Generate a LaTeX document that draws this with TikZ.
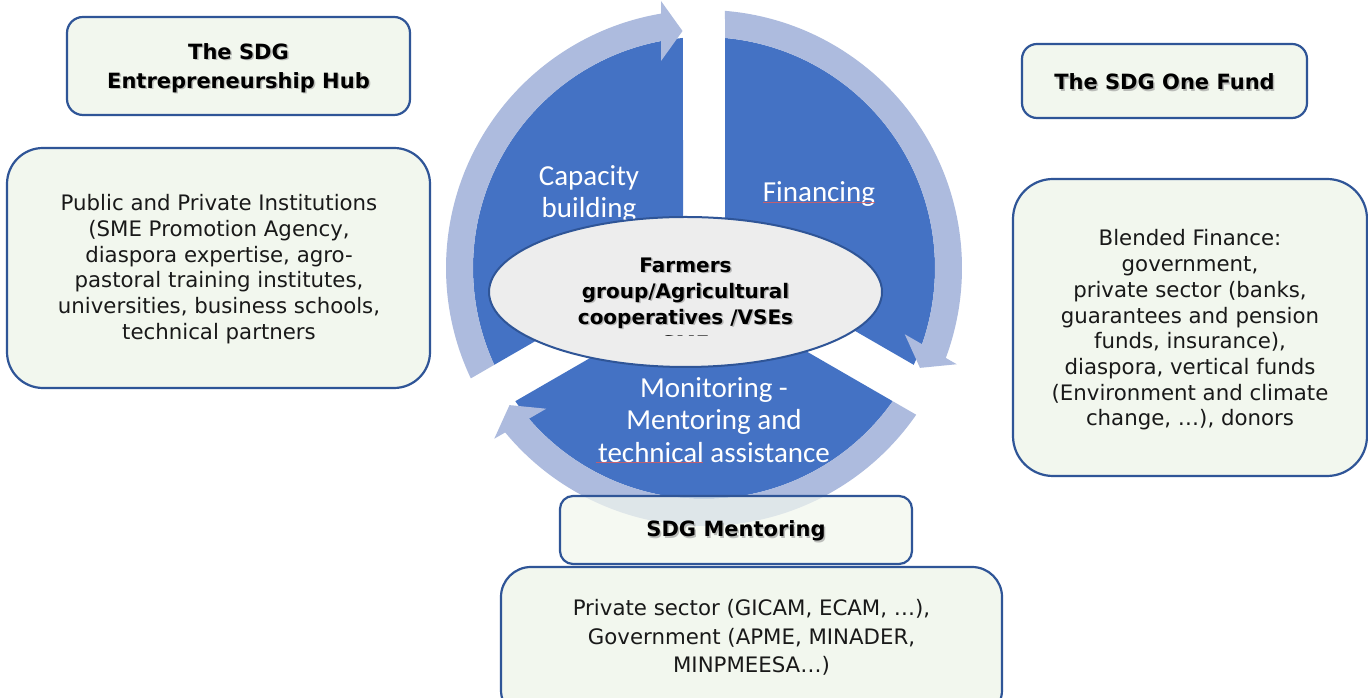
\documentclass[tikz,border=0pt]{standalone}
\usepackage{fontspec}
\setmainfont{DejaVu Sans}
\newfontfamily\calib{Carlito}
\usetikzlibrary{shapes.geometric}
\definecolor{segblue}{HTML}{4472C4}
\definecolor{ringblue}{HTML}{ADBBDE}
\definecolor{boxline}{HTML}{2F5597}
\definecolor{boxfill}{HTML}{F2F7EE}
\definecolor{ellfill}{HTML}{EDEDED}
\definecolor{spellred}{HTML}{E05A5A}
\newcommand\cyclearrow[2]{%
  \fill[ringblue] ({#1-4.667}:258) arc[start angle={#1-4.667}, end angle={#2+9.594}, radius=258]
    -- ({#2+9.149}:270.44) -- ({#2+5.183}:237.97) -- ({#2+11.735}:211.42)
    -- ({#2+10.728}:231) arc[start angle={#2+10.728}, end angle={#1-5.217}, radius=231] -- cycle;}
\begin{document}
\begin{tikzpicture}[x=1pt,y=1pt,
  box/.style={draw=boxline, line width=2.2pt, fill=boxfill, rounded corners=#1, inner sep=0pt},
  box/.default=15,
  btxt/.style={font=\fontsize{21}{29}\selectfont\bfseries, align=center, text=black, inner sep=0pt},
  etxt/.style={font=\fontsize{20}{26}\selectfont\bfseries, align=center, text=black, inner sep=0pt},
  rtxt/.style={font=\fontsize{21.3}{25.7}\selectfont, align=center, text=black!90, inner sep=0pt},
  ctxt/.style={font=\calib\fontsize{29}{32.5}\selectfont, align=center, text=white, inner sep=0pt},
  shadowtxt/.style={text=black!45, opacity=0.55},
  spell/.style={draw=spellred, line width=0.9pt, opacity=0.8}]
\path[use as bounding box, fill=white] (0,0) rectangle (1368,698);

% cycle segments and arrows
\begin{scope}[shift={(704,430)}]
  \fill[segblue] (150:24.25) -- (95.22:231) arc[start angle=95.22, end angle=204.78, radius=231] -- cycle;
  \fill[segblue] (30:24.25) -- (84.78:231) arc[start angle=84.78, end angle=-24.78, radius=231] -- cycle;
  \fill[segblue] (270:24.25) -- (215.22:231) arc[start angle=215.22, end angle=324.78, radius=231] -- cycle;
  \cyclearrow{210}{90}
  \cyclearrow{90}{-30}
  \cyclearrow{-30}{-150}
\end{scope}

% cycle labels
\node[ctxt] (cap) at (589,504) {Capacity\\building};
\node[ctxt] (fin) at (819,503.5) {Financing};
\node[ctxt] (mon) at (714,278) {Monitoring -\\Mentoring and\\technical assistance};
\coordinate (finA) at (763,496);
\coordinate (finB) at (875,496);
\draw[spell] (finA) -- (finB);
\coordinate (tecA) at (596,235.5);
\coordinate (tecB) at (703,235.5);
\draw[spell] (tecA) -- (tecB);

% central ellipse
\node[ellipse, draw=boxline, line width=2pt, fill=ellfill, minimum width=393, minimum height=150, inner sep=0pt] (core) at (685.5,406) {};
\begin{scope}
  \clip (480,362) rectangle (890,480);
  \node[etxt, shadowtxt] (cores) at (687,392.5) {Farmers\\group/Agricultural\\cooperatives /VSEs\\SME};
  \node[etxt] (coret) at (685.5,394) {Farmers\\group/Agricultural\\cooperatives /VSEs\\SME};
\end{scope}

% left column
\node[box=16, minimum width=343, minimum height=98] (hubT) at (238.5,632) {};
\node[btxt, shadowtxt] (hubTs) at (240,628.5) {The SDG\\Entrepreneurship Hub};
\node[btxt] (hubTt) at (238.5,630) {The SDG\\Entrepreneurship Hub};
\node[box=36, minimum width=423, minimum height=240] (hubB) at (218.5,430) {};
\node[rtxt] (hubBt) at (219,429) {Public and Private Institutions\\(SME Promotion Agency,\\diaspora expertise, agro-\\pastoral training institutes,\\universities, business schools,\\technical partners};

% right column
\node[box=15, minimum width=285, minimum height=74] (fundT) at (1164.5,617) {};
\node[btxt, shadowtxt] (fundTs) at (1166,614.5) {The SDG One Fund};
\node[btxt] (fundTt) at (1164.5,616) {The SDG One Fund};
\node[box=40, minimum width=354, minimum height=297] (fundB) at (1190,370.5) {};
\node[rtxt] (fundBt) at (1190,368) {Blended Finance:\\government,\\private sector (banks,\\guarantees and pension\\funds, insurance),\\diaspora, vertical funds\\(Environment and climate\\change, …), donors};

% bottom column
\node[box=13, minimum width=352, minimum height=68, fill opacity=0.72] (mentT) at (736,168) {};
\node[btxt, shadowtxt] (mentTs) at (737.5,165.5) {SDG Mentoring};
\node[btxt] (mentTt) at (736,167) {SDG Mentoring};
\node[box=30, minimum width=501, minimum height=153] (mentB) at (751.5,54.5) {};
\node[rtxt, font=\fontsize{21.3}{28.3}\selectfont] (mentBt) at (751.5,60.5) {Private sector (GICAM, ECAM, …),\\Government (APME, MINADER,\\MINPMEESA…)};
\end{tikzpicture}
\end{document}
